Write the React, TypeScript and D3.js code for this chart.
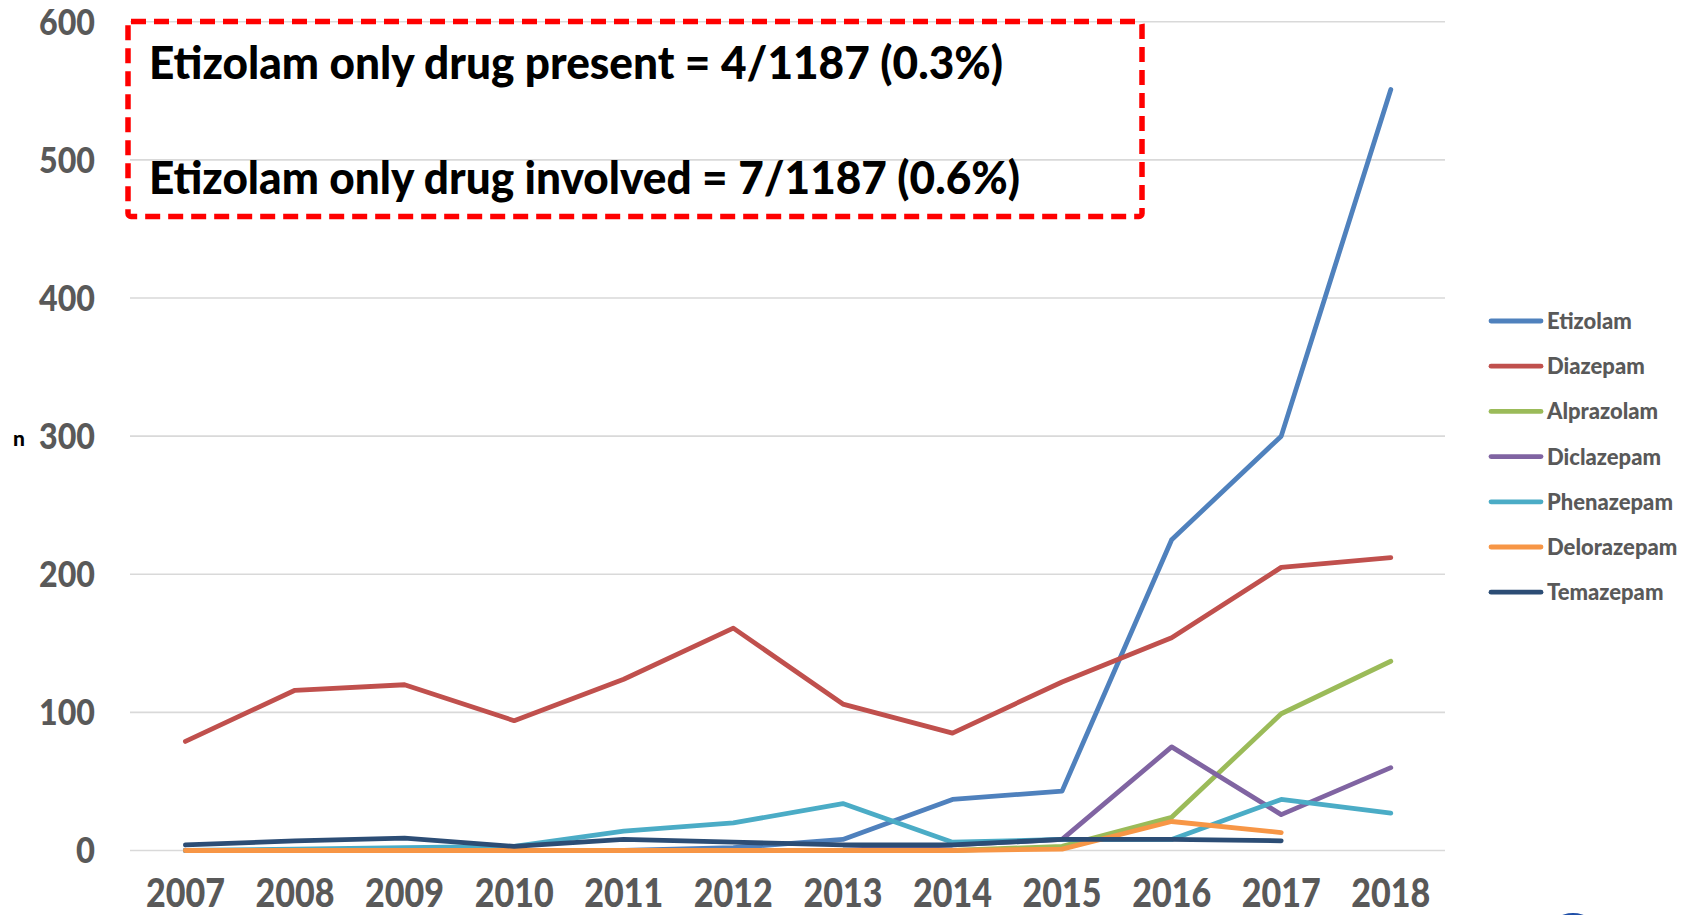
import React from "react";
import * as d3 from "d3";

const years = ["2007","2008","2009","2010","2011","2012","2013","2014","2015","2016","2017","2018"];
const etizolam = [0, 0, 0, 0, 0, 2, 8, 37, 43, 225, 300, 551];
const diazepam = [79, 116, 120, 94, 124, 161, 106, 85, 122, 154, 205, 212];
const alprazolam = [0, 0, 0, 0, 0, 0, 0, 0, 3, 24, 99, 137];
const diclazepam = [0, 0, 0, 0, 0, 0, 0, 4, 8, 75, 26, 60];
const phenazepam = [0, 1, 2, 3, 14, 20, 34, 6, 8, 8, 37, 27];
const delorazepam = [0, 0, 0, 0, 0, 0, 0, 0, 1, 21, 13, null];
const temazepam = [4, 7, 9, 3, 8, 6, 4, 4, 8, 8, 7, null];
const seriesNames = ["Etizolam","Diazepam","Alprazolam","Diclazepam","Phenazepam","Delorazepam","Temazepam"];
const seriesValues = [etizolam, diazepam, alprazolam, diclazepam, phenazepam, delorazepam, temazepam];
const seriesColors = ["#4F81BD","#C0504D","#9BBB59","#8064A2","#4BACC6","#F79646","#2C4D75"];
const yTicks = [0, 100, 200, 300, 400, 500, 600];
const noteLines = ["Etizolam only drug present = 4/1187 (0.3%)", "Etizolam only drug involved = 7/1187 (0.6%)"];

const FONT = "Lato, 'Open Sans', sans-serif";

export default function App() {
  const W = 1690, H = 915;
  const x = d3.scalePoint<string>().domain(years).range([130.6, 1445.6]).padding(0.5);
  const y = d3.scaleLinear().domain([0, 600]).range([850.5, 21.8]);
  const line = d3.line<number | null>()
    .defined(d => d !== null)
    .x((_, i) => x(years[i]) as number)
    .y(d => y(d as number));

  return (
    <svg width={W} height={H} style={{ position: "absolute", left: 0, top: 0, background: "#fff" }}>
      {yTicks.map(t => (
        <line key={"g" + t} x1={130} x2={1445} y1={y(t)} y2={y(t)} stroke="#D9D9D9" strokeWidth={1.6} />
      ))}
      {yTicks.map(t => (
        <text key={"t" + t} x={95} y={y(t)} dy="0.36em" textAnchor="end" fontFamily={FONT} fontWeight={900}
          fontSize={36} fill="#595959" textLength={t === 0 ? 19 : 56} lengthAdjust="spacingAndGlyphs">{t}</text>
      ))}
      {years.map(yr => (
        <text key={"x" + yr} x={x(yr)} y={907} textAnchor="middle" fontFamily={FONT} fontWeight={900}
          fontSize={40} fill="#595959" textLength={79} lengthAdjust="spacingAndGlyphs">{yr}</text>
      ))}
      <text x={19} y={439} dy="0.35em" textAnchor="middle" fontFamily={FONT} fontWeight={900} fontSize={21} fill="#000">n</text>
      {seriesValues.map((vals, i) => (
        <path key={"s" + i} d={line(vals as (number | null)[]) || ""} fill="none" stroke={seriesColors[i]}
          strokeWidth={4.8} strokeLinejoin="round" strokeLinecap="round" />
      ))}
      <rect x={128} y={21.5} width={1014} height={195} rx={3} fill="none" stroke="#FF0000" strokeWidth={5.5}
        strokeDasharray="15 8" />
      {noteLines.map((s, i) => (
        <text key={"n" + i} x={149} y={i === 0 ? 79 : 194} fontFamily={FONT} fontWeight={900} fontSize={46}
          fill="#000" textLength={i === 0 ? 854 : 871} lengthAdjust="spacingAndGlyphs">{s}</text>
      ))}
      {seriesNames.map((nm, i) => {
        const ly = 321 + i * 45.2;
        return (
          <g key={"l" + i}>
            <line x1={1491} x2={1541} y1={ly} y2={ly} stroke={seriesColors[i]} strokeWidth={4.8} strokeLinecap="round" />
            <text x={1547} y={ly} dy="0.36em" fontFamily={FONT} fontWeight={900} fontSize={22} fill="#595959">{nm}</text>
          </g>
        );
      })}
      <ellipse cx={1573} cy={932} rx={24} ry={19} fill="#1F4FA8" />
    </svg>
  );
}
